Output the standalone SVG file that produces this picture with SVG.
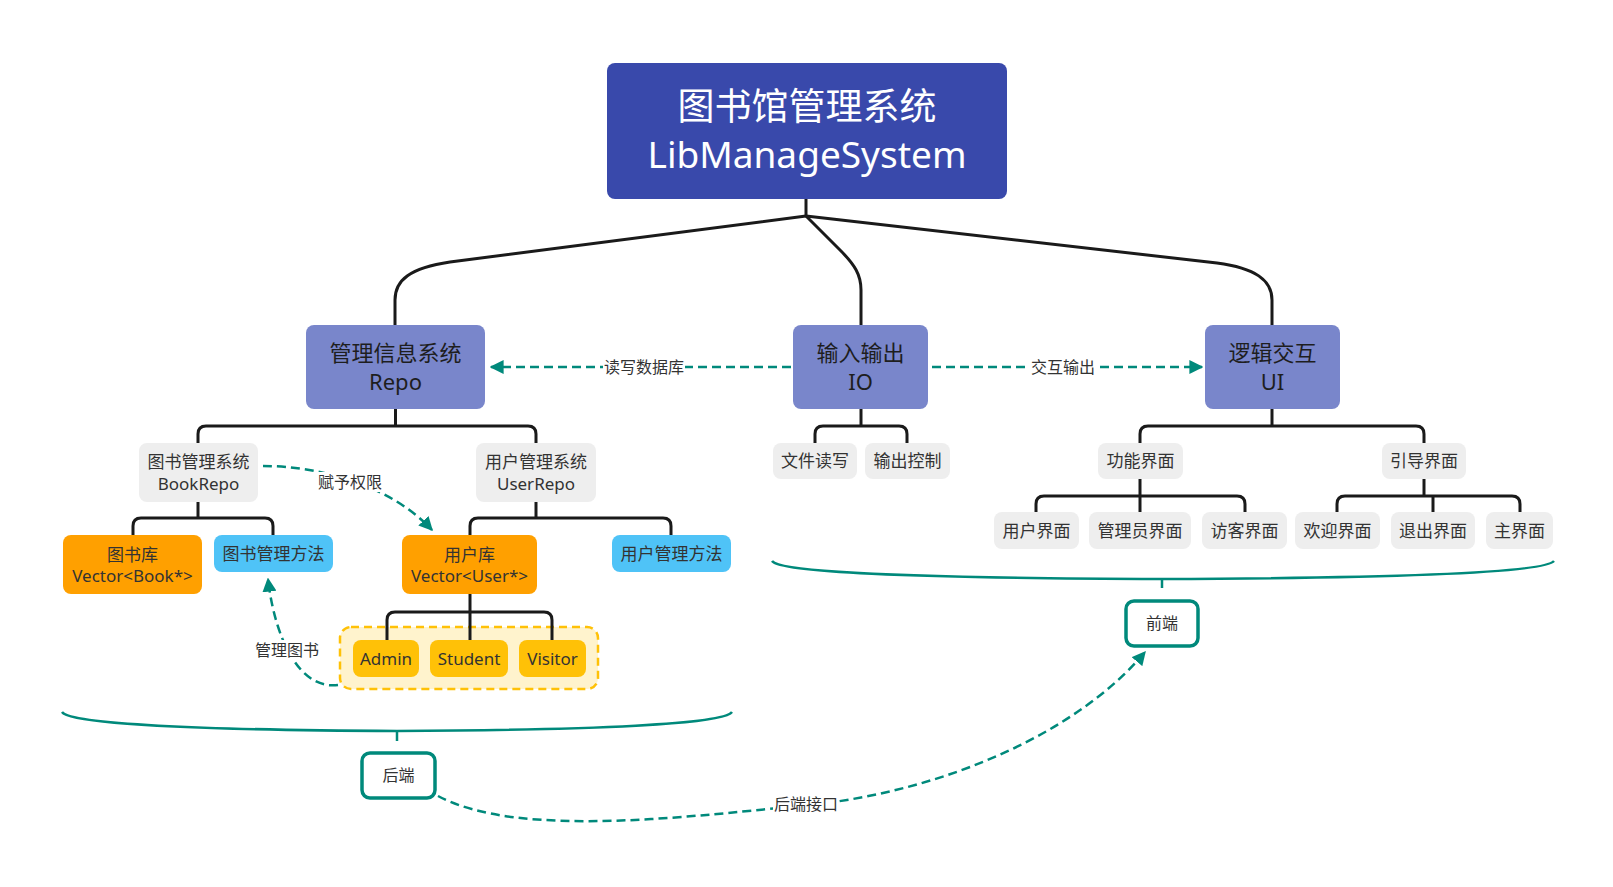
<svg xmlns="http://www.w3.org/2000/svg" width="1613" height="887" viewBox="0 0 1613 887">
<style>
text{font-family:"Noto Sans","Noto Sans CJK SC",sans-serif;text-anchor:middle;fill:#262626}
.t1{font-size:37px;fill:#ffffff}
.t2{font-size:22px;fill:#1e1e1e}
.t3{font-size:17px;fill:#333333}
.lb{font-size:16px;fill:#333333}
.tree{fill:none;stroke:#1a1a1a;stroke-width:3;stroke-linejoin:round;stroke-linecap:butt}
.dash{fill:none;stroke:#00897b;stroke-width:2.5;stroke-dasharray:9 5}
.brace{fill:none;stroke:#00897b;stroke-width:2.5}
.tag{fill:#ffffff;stroke:#00897b;stroke-width:3.5}
.gray{fill:#eeeeee}
.orange{fill:#ffa000}
.blue{fill:#4fc3f7}
.amber{fill:#ffc107}
.mid{fill:#7986cb}
</style>
<defs>
<marker id="arr" markerUnits="userSpaceOnUse" markerWidth="14" markerHeight="14" viewBox="0 0 10 10" refX="9" refY="5" orient="auto">
<path d="M0,0 L10,5 L0,10 Z" fill="#00897b"/>
</marker>
</defs>
<rect width="1613" height="887" fill="#ffffff"/>

<g id="group-users">
<rect x="340" y="627" width="258" height="62" rx="11" fill="#fff3cd" stroke="#ffc107" stroke-width="2.5" stroke-dasharray="8 5"/>
</g>

<g id="connectors">
<path class="tree" d="M806,199 V216"/>
<path class="tree" d="M806,216 L450,262 C410,268 395,280 395,300 V325"/>
<path class="tree" d="M806,216 L840,250 C855,265 861,275 861,290 V325"/>
<path class="tree" d="M806,216 L1217,263 C1255,268 1272,280 1272,300 V325"/>
<path class="tree" d="M395.5,409 V426"/>
<path class="tree" d="M198,443 V434 Q198,426 206,426 H528 Q536,426 536,434 V443"/>
<path class="tree" d="M861,409 V426"/>
<path class="tree" d="M815,443 V434 Q815,426 823,426 H899 Q907,426 907,434 V443"/>
<path class="tree" d="M1272,409 V426"/>
<path class="tree" d="M1140,443 V434 Q1140,426 1148,426 H1416 Q1424,426 1424,434 V443"/>
<path class="tree" d="M1140,479 V512"/>
<path class="tree" d="M1036,512 V504 Q1036,496 1044,496 H1237 Q1245,496 1245,504 V512"/>
<path class="tree" d="M1424,479 V496"/>
<path class="tree" d="M1337,512 V504 Q1337,496 1345,496 H1512 Q1520,496 1520,504 V512"/>
<path class="tree" d="M1433,496 V512"/>
<path class="tree" d="M198,502 V518"/>
<path class="tree" d="M133,535 V526 Q133,518 141,518 H265 Q273,518 273,526 V535"/>
<path class="tree" d="M536,502 V518"/>
<path class="tree" d="M470,535 V526 Q470,518 478,518 H663 Q671,518 671,526 V535"/>
<path class="tree" d="M470,594 V640"/>
<path class="tree" d="M387,640 V620 Q387,612 395,612 H544 Q552,612 552,620 V640"/>

<path class="dash" d="M791,367 H491" marker-end="url(#arr)"/>
<rect x="603" y="357" width="82" height="20" fill="#ffffff"/>
<text class="lb" x="644" y="373">读写数据库</text>

<path class="dash" d="M932,367 H1202" marker-end="url(#arr)"/>
<rect x="1030" y="357" width="66" height="20" fill="#ffffff"/>
<text class="lb" x="1063" y="373">交互输出</text>

<path class="dash" d="M263,466 C320,466 390,485 432,530" marker-end="url(#arr)"/>
<rect x="317" y="472" width="66" height="20" fill="#ffffff"/>
<text class="lb" x="350" y="488">赋予权限</text>

<path class="dash" d="M338,685 C300,690 275,640 268,579" marker-end="url(#arr)"/>
<rect x="254" y="640" width="66" height="20" fill="#ffffff"/>
<text class="lb" x="287" y="656">管理图书</text>

<path class="dash" d="M438,796 C520,840 700,815 810,805 C950,790 1080,730 1145,652" marker-end="url(#arr)"/>
<rect x="773" y="794" width="66" height="20" fill="#ffffff"/>
<text class="lb" x="806" y="810">后端接口</text>

<path class="brace" d="M62,712 C70,724 200,730 397,731 C594,730 724,724 732,712"/>
<path class="brace" d="M397,731 V741"/>
<path class="brace" d="M772,561 C780,572 900,578 1162,579 C1420,578 1545,572 1554,561"/>
<path class="brace" d="M1162,579 V588"/>
</g>

<g id="root">
<rect x="607" y="63" width="400" height="136" rx="8" fill="#3949ab"/>
<text class="t1" x="807" y="120">图书馆管理系统</text>
<text class="t1" x="807" y="168">LibManageSystem</text>
</g>

<g id="repo">
<rect class="mid" x="306" y="325" width="179" height="84" rx="8"/>
<text class="t2" x="395.5" y="361">管理信息系统</text>
<text class="t2" x="395.5" y="390">Repo</text>
</g>
<g id="io">
<rect class="mid" x="793" y="325" width="135" height="84" rx="8"/>
<text class="t2" x="860.5" y="361">输入输出</text>
<text class="t2" x="860.5" y="390">IO</text>
</g>
<g id="ui">
<rect class="mid" x="1205" y="325" width="135" height="84" rx="8"/>
<text class="t2" x="1272.5" y="361">逻辑交互</text>
<text class="t2" x="1272.5" y="390">UI</text>
</g>

<g id="bookrepo">
<rect class="gray" x="139" y="443" width="119" height="59" rx="8"/>
<text class="t3" x="198.5" y="467.5">图书管理系统</text>
<text class="t3" x="198.5" y="490">BookRepo</text>
</g>
<g id="userrepo">
<rect class="gray" x="476" y="443" width="120" height="59" rx="8"/>
<text class="t3" x="536" y="467.5">用户管理系统</text>
<text class="t3" x="536" y="490">UserRepo</text>
</g>

<g id="booklib">
<rect class="orange" x="63" y="535" width="139" height="59" rx="8"/>
<text class="t3" x="132.5" y="560.5">图书库</text>
<text class="t3" x="132.5" y="582">Vector&lt;Book*&gt;</text>
</g>
<g id="bookmethod">
<rect class="blue" x="214" y="535" width="119" height="37" rx="8"/>
<text class="t3" x="273.5" y="560">图书管理方法</text>
</g>
<g id="userlib">
<rect class="orange" x="402" y="535" width="135" height="59" rx="8"/>
<text class="t3" x="469.5" y="560.5">用户库</text>
<text class="t3" x="469.5" y="582">Vector&lt;User*&gt;</text>
</g>
<g id="usermethod">
<rect class="blue" x="612" y="535" width="119" height="37" rx="8"/>
<text class="t3" x="671.5" y="560">用户管理方法</text>
</g>

<g id="admin">
<rect class="amber" x="353" y="640" width="66" height="37" rx="8"/>
<text class="t3" x="386" y="664.5">Admin</text>
</g>
<g id="student">
<rect class="amber" x="430" y="640" width="78" height="37" rx="8"/>
<text class="t3" x="469" y="664.5">Student</text>
</g>
<g id="visitor">
<rect class="amber" x="519" y="640" width="67" height="37" rx="8"/>
<text class="t3" x="552.5" y="664.5">Visitor</text>
</g>

<g id="fileio">
<rect class="gray" x="773" y="443" width="84" height="36" rx="8"/>
<text class="t3" x="815" y="467">文件读写</text>
</g>
<g id="outctrl">
<rect class="gray" x="865" y="443" width="85" height="36" rx="8"/>
<text class="t3" x="907.5" y="467">输出控制</text>
</g>
<g id="funcui">
<rect class="gray" x="1098" y="443" width="85" height="36" rx="8"/>
<text class="t3" x="1140.5" y="467">功能界面</text>
</g>
<g id="guideui">
<rect class="gray" x="1382" y="443" width="84" height="36" rx="8"/>
<text class="t3" x="1424" y="467">引导界面</text>
</g>

<g id="userui">
<rect class="gray" x="994" y="512" width="85" height="37" rx="8"/>
<text class="t3" x="1036.5" y="537">用户界面</text>
</g>
<g id="adminui">
<rect class="gray" x="1089" y="512" width="102" height="37" rx="8"/>
<text class="t3" x="1140" y="537">管理员界面</text>
</g>
<g id="guestui">
<rect class="gray" x="1202" y="512" width="85" height="37" rx="8"/>
<text class="t3" x="1244.5" y="537">访客界面</text>
</g>
<g id="welcomeui">
<rect class="gray" x="1295" y="512" width="85" height="37" rx="8"/>
<text class="t3" x="1337.5" y="537">欢迎界面</text>
</g>
<g id="exitui">
<rect class="gray" x="1391" y="512" width="84" height="37" rx="8"/>
<text class="t3" x="1433" y="537">退出界面</text>
</g>
<g id="mainui">
<rect class="gray" x="1486" y="512" width="67" height="37" rx="8"/>
<text class="t3" x="1519.5" y="537">主界面</text>
</g>

<g id="backend">
<rect class="tag" x="362" y="753" width="73" height="45" rx="8"/>
<text class="lb" x="398.5" y="781">后端</text>
</g>
<g id="frontend">
<rect class="tag" x="1126" y="601" width="72" height="45" rx="8"/>
<text class="lb" x="1162" y="629">前端</text>
</g>
</svg>
